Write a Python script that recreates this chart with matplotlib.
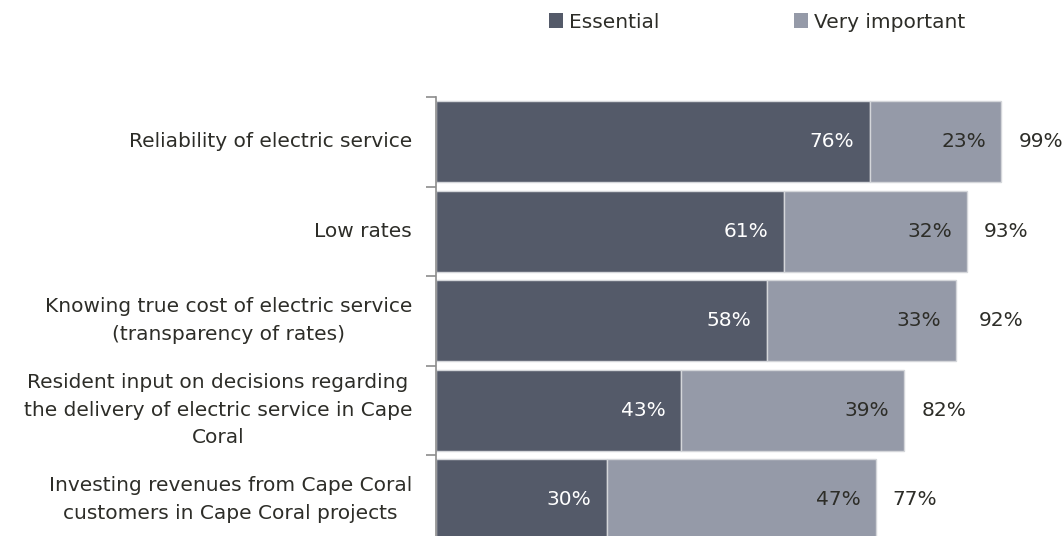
import matplotlib.pyplot as plt
from matplotlib.patches import Patch

categories = [
    "Reliability of electric service",
    "Low rates",
    "Knowing true cost of electric service\n(transparency of rates)",
    "Resident input on decisions regarding\nthe delivery of electric service in Cape\nCoral",
    "Investing revenues from Cape Coral\ncustomers in Cape Coral projects",
]
essential = [76, 61, 58, 43, 30]
very_important = [23, 32, 33, 39, 47]
totals = [99, 93, 92, 82, 77]

c_dark = "#545a69"
c_light = "#959aa8"
txt = "#2d2d28"
fs = 14.5
plt.rcParams['font.family'] = ['DejaVu Sans']

fig = plt.figure(figsize=(10.64, 5.36), dpi=100)
ax = fig.add_axes([436/1064, 1 - 544.5/536, (1064-436)/1064, 447.5/536])

y = list(range(len(categories)))
ax.barh(y, essential, height=0.9, color=c_dark, edgecolor="#d4d6da", linewidth=1)
ax.barh(y, very_important, left=essential, height=0.9, color=c_light, edgecolor="#d4d6da", linewidth=1)

for i in y:
    ax.text(essential[i] - 2.8, i, f"{essential[i]}%", ha="right", va="center",
            color="white", fontsize=fs)
    ax.text(essential[i] + very_important[i] - 2.6, i, f"{very_important[i]}%", ha="right",
            va="center", color=txt, fontsize=fs)
    ax.text(totals[i] + 3.0, i, f"{totals[i]}%", ha="left", va="center", color=txt, fontsize=fs)

ax.set_xlim(0, 110)
ax.set_ylim(len(categories) - 0.5, -0.5)
ax.set_xticks([])
ax.set_yticks([i - 0.5 for i in range(len(categories) + 1)])
ax.set_yticklabels([])
ax.tick_params(axis="y", length=7, color="#8c8c8c", width=1.2)
for s in ["top", "right", "bottom"]:
    ax.spines[s].set_visible(False)
ax.spines["left"].set_color("#8c8c8c")
ax.spines["left"].set_linewidth(1.2)

for i, c in enumerate(categories):
    ax.text(-0.038, i, c, transform=ax.get_yaxis_transform(), ha="right", va="center",
            multialignment="center", fontsize=fs, color=txt, linespacing=1.58)

handles = [Patch(facecolor=c_dark), Patch(facecolor=c_light)]
fig.legend(handles, ["Essential", "Very important"], loc="center", bbox_to_anchor=(757/1064, 1 - 22/536),
           ncol=2, frameon=False, fontsize=fs, handlelength=0.7, handleheight=0.7,
           handletextpad=0.3, columnspacing=6.65, labelcolor=txt)

fig.savefig("out.png", dpi=100)
